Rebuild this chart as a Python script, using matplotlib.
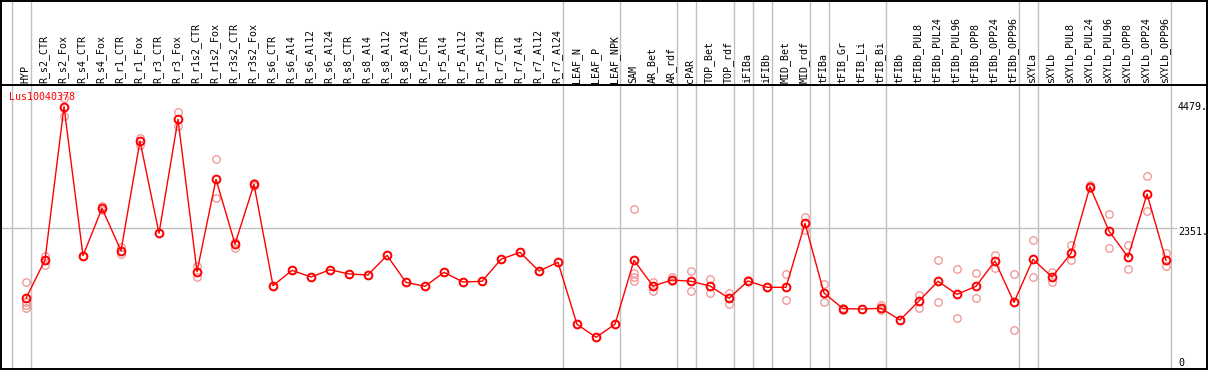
import matplotlib
matplotlib.use("Agg")
import matplotlib.pyplot as plt

samples = ["HYP", "R_s2_CTR", "R_s2_Fox", "R_s4_CTR", "R_s4_Fox", "R_r1_CTR", "R_r1_Fox",
           "R_r3_CTR", "R_r3_Fox", "R_r1s2_CTR", "R_r1s2_Fox", "R_r3s2_CTR", "R_r3s2_Fox",
           "R_s6_CTR", "R_s6_Al4", "R_s6_Al12", "R_s6_Al24", "R_s8_CTR", "R_s8_Al4", "R_s8_Al12",
           "R_s8_Al24", "R_r5_CTR", "R_r5_Al4", "R_r5_Al12", "R_r5_Al24", "R_r7_CTR", "R_r7_Al4",
           "R_r7_Al12", "R_r7_Al24", "LEAF_N", "LEAF_P", "LEAF_NPK", "SAM", "AR_Bet", "AR_rdf",
           "cPAR", "TOP_Bet", "TOP_rdf", "iFIBa", "iFIBb", "MID_Bet", "MID_rdf", "tFIBa",
           "tFIB_Gr", "tFIB_Li", "tFIB_Bi", "tFIBb", "tFIBb_PUL8", "tFIBb_PUL24", "tFIBb_PUL96",
           "tFIBb_OPP8", "tFIBb_OPP24", "tFIBb_OPP96", "sXYLa", "sXYLb", "sXYLb_PUL8",
           "sXYLb_PUL24", "sXYLb_PUL96", "sXYLb_OPP8", "sXYLb_OPP24", "sXYLb_OPP96"]

# mean expression per sample
means = [1125, 1796, 4479, 1871, 2700, 1958, 3878, 2263, 4258, 1591, 3208, 2076, 3120,
         1346, 1615, 1498, 1626, 1551, 1533, 1877, 1405, 1335, 1580, 1411, 1423, 1808, 1930,
         1603, 1755, 670, 443, 670, 1790, 1340, 1446, 1423, 1340, 1125, 1429, 1318, 1318,
         2437, 1218, 944, 938, 950, 746, 1078, 1423, 1195, 1335, 1778, 1055, 1808, 1498,
         1913, 3079, 2303, 1848, 2951, 1790]

# replicate values per sample
replicates = [
    [1405, 1060, 1000, 950], [1871, 1796, 1708], [4625, 4479, 4321], [1871, 1871],
    [2740, 2670], [2028, 1900], [3925, 3808], [2263], [4391, 4141], [1691, 1504],
    [3558, 2875], [2116, 2011], [3150, 3090],
    [1346], [1615], [1498], [1626], [1551], [1533], [1877], [1405], [1335], [1580],
    [1411], [1423], [1808], [1930], [1603], [1755], [670], [443], [670],
    [2683, 1560, 1500, 1420], [1405, 1259], [1493, 1420], [1598, 1248], [1458, 1213],
    [1224, 1020], [1440, 1420], [1318], [1551, 1090], [2548, 2321], [1376, 1055],
    [960, 925], [938], [1008, 920], [746],
    [1183, 961], [1790, 1055], [1633, 775], [1563, 1125], [1883, 1661], [1545, 565],
    [2140, 1493], [1580, 1416], [2058, 1790], [3110, 3050], [2595, 2000], [2058, 1633],
    [3260, 2653], [1913, 1691],
]

group_ends = [-1, 0, 28, 31, 34, 35, 37, 38, 39, 41, 42, 45, 52, 53, 60]
gene = "Lus10040378"
max_value = 4479
mid_value = 2351

W, H = 1209, 370
px_step = 19.0
px_first = 26.0
y_zero_px = 362.6
px_per_unit = 0.05714

def px_to_idx(px):
    return (px - px_first) / px_step

def py_to_val(py):
    return (y_zero_px - py) / px_per_unit

mono = "DejaVu Sans Mono"
fs = 7.2
grey = "#c0c0c0"

fig = plt.figure(figsize=(W / 100, H / 100), dpi=100)

# main plot area
ax = fig.add_axes([1 / W, 1 / H, 1206 / W, 284 / H])
ax.set_xlim(px_to_idx(1), px_to_idx(1207))
ax.set_ylim(py_to_val(369), py_to_val(85))
ax.set_xticks([])
ax.set_yticks([])
for s in ax.spines.values():
    s.set_color("black")
    s.set_linewidth(1.4)

# header with sample names
hx = fig.add_axes([1 / W, 285 / H, 1206 / W, 84 / H])
hx.set_xlim(ax.get_xlim())
hx.set_ylim(85, 0)
hx.set_xticks([])
hx.set_yticks([])
for s in hx.spines.values():
    s.set_color("black")
    s.set_linewidth(1.4)

off = 4.7 / px_step
for g in group_ends:
    ax.axvline(g + off, color=grey, lw=1.0, zorder=1)
    hx.axvline(g + off, color=grey, lw=1.0, zorder=1)

ax.hlines(mid_value, ax.get_xlim()[0], px_to_idx(1177), color=grey, lw=1.0, zorder=1)

xs = list(range(len(samples)))
for i, reps in enumerate(replicates):
    ax.plot([i] * len(reps), reps, "o", ms=5.4, mfc="none", mec="#f09090", mew=0.9, zorder=2)
ax.plot(xs, means, "-", color="red", lw=1.0, zorder=3)
ax.plot(xs, means, "o", ms=5.6, mfc="none", mec="red", mew=1.4, zorder=4)

for i, name in enumerate(samples):
    hx.text(i - 0.05, 83, name, rotation=90, ha="center", va="bottom",
            family=mono, fontsize=fs, color="black")

ax.text(px_to_idx(9), py_to_val(96.7), gene, ha="left", va="center",
        family=mono, fontsize=fs, color="red", zorder=5)

for v, lab in [(max_value, "4479."), (mid_value, "2351."), (0, "0")]:
    dy = -60 if v == mid_value else 0
    ax.text(px_to_idx(1178), v + dy, lab, ha="left", va="center",
            family=mono, fontsize=fs, color="black")

fig.savefig("out.png", dpi=100)
